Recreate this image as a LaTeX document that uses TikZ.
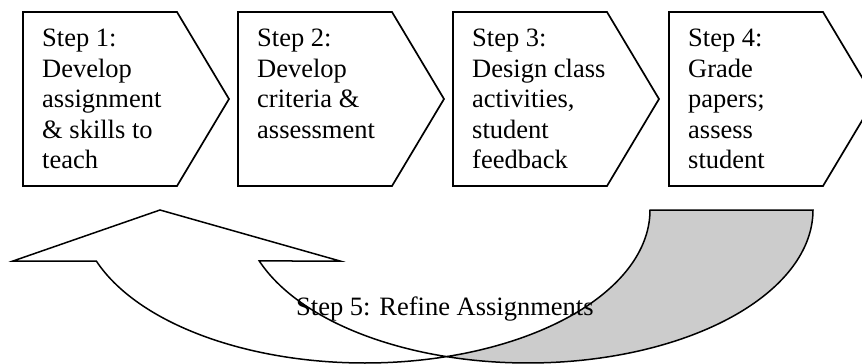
\documentclass[tikz,border=0pt]{standalone}
\usepackage{fontspec}
\setmainfont{Liberation Serif}
\newcommand{\chevbox}[1]{\draw[chev] (#1,12) -- ++(154,0) -- ++(52,87) -- ++(-52,87) -- ++(-154,0) -- cycle;}
\begin{document}
\begin{tikzpicture}[x=1pt,y=-1pt,
  chev/.style={draw=black,line width=1.7pt,line join=miter,fill=white},
  steptext/.style={anchor=north west,inner sep=0pt,align=left,font=\fontsize{26.5}{30.4}\selectfont},
  band/.style={draw=black,line width=1.5pt,line join=miter},
  frontface/.style={band,fill=white},
  backface/.style={band,fill=black!20}]
\useasboundingbox (0,0) rectangle (862,364);
\clip (0,0) rectangle (862,364);
\fill[white] (0,0) rectangle (862,364);
% step boxes
\chevbox{23}
\chevbox{238}
\chevbox{453}
\chevbox{669}
\node[steptext] (t1) at (42,25.4) {\strut Step 1:\\Develop\\assignment\\\& skills to\\teach};
\node[steptext] (t2) at (257,25.4) {\strut Step 2:\\Develop\\criteria \&\\assessment};
\node[steptext] (t3) at (472,25.4) {\strut Step 3:\\Design class\\activities,\\student\\feedback};
\node[steptext] (t4) at (688,25.4) {\strut Step 4:\\Grade\\papers;\\assess\\student};
% curved up arrow: back (gray) part
\draw[backface] plot[domain=0:106.62,samples=90] ({528+285*cos(\x)},{210+153*sin(\x)})
  -- plot[domain=73.38:0,samples=90] ({365+285*cos(\x)},{210+153*sin(\x)}) -- cycle;
% front (white) part with head
\coordinate (tip) at (160,210);
\coordinate (hl) at (13,261);
\coordinate (hr) at (340,261);
\draw[frontface] (hl) -- (tip) -- (hr)
  -- plot[domain=160.53:106.62,samples=90] ({528+285*cos(\x)},{210+153*sin(\x)})
  -- plot[domain=73.38:160.53,samples=90] ({365+285*cos(\x)},{210+153*sin(\x)}) -- cycle;
\node[anchor=base west,inner sep=0pt,font=\fontsize{26.5}{30.4}\selectfont] (s5) at (296,315) {Step 5: Refine Assignments};
\end{tikzpicture}
\end{document}
